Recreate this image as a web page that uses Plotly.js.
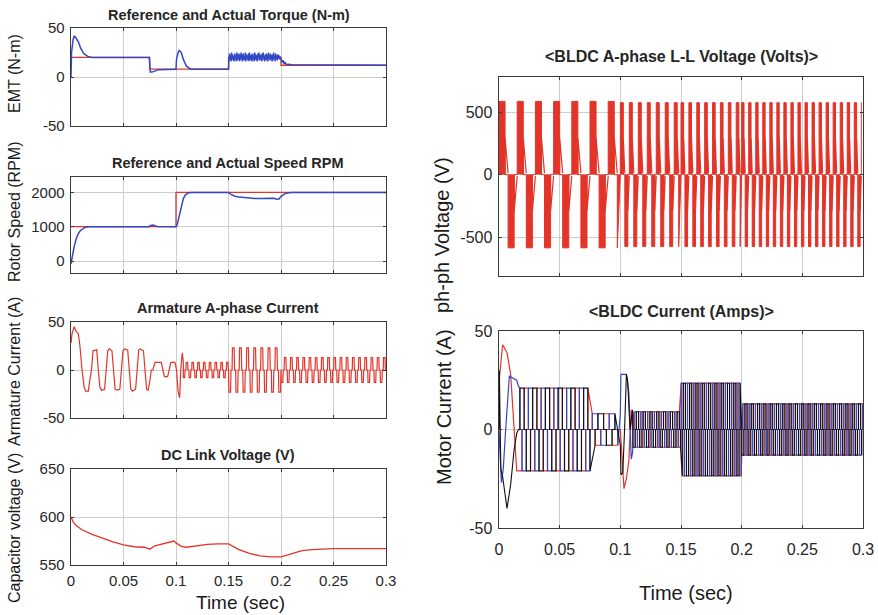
<!DOCTYPE html>
<html><head><meta charset="utf-8">
<script src="https://cdn.plot.ly/plotly-3.0.1.min.js"></script>
<style>html,body{margin:0;padding:0;background:#fff}#chart{width:878px;height:615px}</style>
</head><body><div id="chart"></div>
<script>
// ================= DATA =================
// tick labels
const timeTicks = [0, 0.05, 0.1, 0.15, 0.2, 0.25, 0.3];
const timeTickText = ['0', '0.05', '0.1', '0.15', '0.2', '0.25', '0.3'];
const torqueTicks = [-50, 0, 50], torqueTickText = ['-50', '0', '50'];
const speedTicks = [0, 1000, 2000], speedTickText = ['0', '1000', '2000'];
const armTicks = [-50, 0, 50], armTickText = ['-50', '0', '50'];
const dcTicks = [550, 600, 650], dcTickText = ['550', '600', '650'];
const voltTicks = [-500, 0, 500], voltTickText = ['-500', '0', '500'];
const curTicks = [-50, 0, 50], curTickText = ['-50', '0', '50'];

// Torque (N-m)
const torqueRefT = [0, 0.075, 0.075, 0.15, 0.15, 0.2, 0.2, 0.3];
const torqueRefV = [20, 20, 8, 8, 20, 20, 12, 12];
const torqueActT = [0, 0.0005, 0.002, 0.003, 0.0045, 0.007, 0.009, 0.012, 0.016, 0.02, 0.0745, 0.0755, 0.077, 0.08, 0.083, 0.1, 0.1005, 0.102, 0.103, 0.105, 0.107, 0.11, 0.114, 0.15, 0.1505];
const torqueActV = [0, 25, 38, 42, 40, 36, 30, 24, 21, 20, 20, 5, 5, 6, 7.5, 8, 18, 25, 27, 25, 18, 11, 8, 8, 20];
const torqueRippleStart = 0.151, torqueRippleEnd = 0.1995;
const torqueRippleV = [24, 17, 22, 16, 25, 18, 23, 17, 21, 16, 24, 19, 22, 16, 25, 17, 23, 18, 24, 16, 22, 19, 25, 17, 23, 16, 24, 18, 21, 17, 25, 16, 23, 19, 22, 17, 24, 16, 25, 18, 22, 17, 23, 16, 24, 19, 21, 16, 25, 18, 23, 17, 22, 16, 24, 19, 25, 17, 23, 18, 22, 16, 24, 17, 25, 19, 21, 16, 23, 18, 24, 17, 22, 16, 25, 19, 23, 17, 24, 18, 22, 16, 23, 17, 25, 19, 21, 16, 24, 18, 22, 17, 23, 19, 22, 18, 21, 19];
const torqueTailT = [0.2, 0.201, 0.202, 0.203, 0.204, 0.205, 0.207, 0.21, 0.3];
const torqueTailV = [19, 15, 17, 13.5, 15, 12.5, 13, 12.5, 12];

// Speed (RPM)
const speedRefT = [0, 0.1, 0.1, 0.3];
const speedRefV = [1000, 1000, 2000, 2000];
const speedActT = [0, 0.001, 0.003, 0.005, 0.007, 0.009, 0.011, 0.013, 0.016, 0.074, 0.076, 0.078, 0.08, 0.082, 0.1, 0.101, 0.103, 0.105, 0.107, 0.109, 0.112, 0.115, 0.15, 0.152, 0.156, 0.16, 0.165, 0.17, 0.175, 0.18, 0.185, 0.19, 0.193, 0.196, 0.198, 0.2, 0.203, 0.206, 0.21, 0.3];
const speedActV = [-80, 100, 420, 650, 800, 890, 940, 975, 1000, 1000, 1040, 1050, 1030, 1005, 1000, 1050, 1300, 1600, 1820, 1930, 1990, 2000, 2000, 1950, 1890, 1870, 1850, 1830, 1825, 1820, 1830, 1840, 1830, 1800, 1810, 1880, 1950, 1985, 2000, 2000];

// Armature A-phase current (A): start-up transient vertices, then steady sections
const armTransT = [0, 0.001, 0.003, 0.005, 0.007, 0.0085, 0.0105, 0.0125, 0.014, 0.0165, 0.018, 0.0195, 0.021, 0.0245, 0.026, 0.0275, 0.029, 0.032, 0.0335, 0.035, 0.0365, 0.039, 0.0405, 0.042, 0.0435, 0.0465, 0.048, 0.0495, 0.051, 0.054, 0.0555, 0.057, 0.0585, 0.0615, 0.063, 0.0645, 0.066, 0.069, 0.0705, 0.072, 0.0735, 0.075, 0.0765, 0.078, 0.08, 0.086, 0.0875, 0.089, 0.092, 0.0935, 0.095, 0.099, 0.1005, 0.102, 0.1035, 0.1045, 0.106, 0.107];
const armTransV = [28, 38, 45, 40, 38, 25, 0, -18, -22, -22, -10, 0, 20, 21, 0, -18, -21, -20, 0, 20, 22, 20, 0, -20, -21, -20, 0, 20, 22, 21, 0, -20, -22, -20, 0, 21, 22, 20, 0, -20, -21, -12, 0, 0, 8, 8, 0, -7, -7, 0, 8, 8, 0, -22, -29, 0, 18, 8];
const armSegStart = [0.107, 0.15, 0.2];
const armSegEnd = [0.15, 0.2, 0.3];
const armSegPeriod = [0.0055, 0.0068, 0.0059];
const armSegAmp = [8, 23, 13];
const armSegPhase = [0.55, 0.5, 0.5];

// DC link voltage (V)
const dcT = [0, 0.002, 0.005, 0.01, 0.02, 0.03, 0.04, 0.05, 0.06, 0.07, 0.075, 0.08, 0.09, 0.098, 0.1, 0.105, 0.11, 0.12, 0.13, 0.14, 0.15, 0.16, 0.17, 0.18, 0.19, 0.2, 0.21, 0.22, 0.23, 0.25, 0.3];
const dcV = [600, 595, 591, 587, 582, 578, 574, 571, 569, 568.5, 566.5, 570, 573, 575, 573, 569.5, 568.5, 570, 571.5, 572, 572, 566, 562, 559.5, 558.5, 558.5, 562, 565, 566, 567, 567];

// BLDC A-phase L-L voltage (V): sections [start, end, period, amplitude]
const voltSegStart = [0, 0.1, 0.15, 0.2];
const voltSegEnd = [0.1, 0.15, 0.2, 0.3];
const voltSegPeriod = [0.015, 0.0074, 0.0065, 0.0058];
const voltSegAmp = [585, 575, 575, 575];
const voltFloatLevel = 0.5; // level where the floating-phase slope starts

// BLDC phase currents (A): transients + sections
const curRedT = [0, 0.0003, 0.003, 0.0066, 0.0096, 0.0125, 0.0146, 0.016];
const curRedV = [0, 26, 43, 39, 28, 0, -21, -21];
const curBlueT = [0, 0.0003, 0.002, 0.0035, 0.0055, 0.0085, 0.0146, 0.016];
const curBlueV = [0, -5, -27, -20, 0, 27, 25, 22];
const curBlackT = [0, 0.0003, 0.0015, 0.003, 0.0066, 0.0096, 0.0125, 0.0146, 0.016];
const curBlackV = [0, 30, -20, -24, -40, -28, -10, -2, 0];
const cur2RedT = [0.1, 0.1005, 0.103, 0.105, 0.107, 0.109, 0.11];
const cur2RedV = [0, -5, -30, -25, -16, 10, 0];
const cur2BlueT = [0.1, 0.1005, 0.105, 0.107, 0.109, 0.11];
const cur2BlueV = [8, 28, 28, 19, -15, -12];
const cur2BlackT = [0.1, 0.1005, 0.102, 0.1035, 0.105, 0.106, 0.108, 0.11];
const cur2BlackV = [-8, -23, -22, 0, 28, 25, 0, 10];
const curSegStart = [0.016, 0.075, 0.11, 0.15, 0.2];
const curSegEnd = [0.075, 0.1, 0.15, 0.2, 0.3];
const curSegPeriod = [0.0105, 0.014, 0.0056, 0.0052, 0.0052];
const curSegAmp = [21, 8, 9, 23.5, 13];
const curSegPhase = [0.55, 0.2, 0.1, 0.3, 0.15];

// ================= helpers =================
// one period shape (fractions of the period) used to expand the sections
const SIX_F = [0, 0, 1/3, 1/3, 1/2, 1/2, 5/6, 5/6];
const SIX_L = [0, 1, 1, 0, 0, -1, -1, 0];
const TRAP_F = [0, 0.05, 0.29, 0.35, 0.5, 0.55, 0.79, 0.85];
const TRAP_L = [0, 1, 1, 0, 0, -1, -1, 0];

function expand(t0, t1, T, A, p0, F, L, xs, ys) {
  const f0 = ((p0 % 1) + 1) % 1;
  for (let n = 0; ; n++) {
    for (let k = 0; k < F.length; k++) {
      const te = t0 + (n + F[k] - f0) * T;
      if (te < t0) continue;
      if (te > t1) { return; }
      xs.push(te); ys.push(L[k] === null ? null : A * L[k]);
    }
  }
}
function sections(starts, ends, periods, amps, phases, offset, F, L) {
  const xs = [], ys = [];
  for (let i = 0; i < starts.length; i++) {
    expand(starts[i], ends[i], periods[i], amps[i], (phases ? phases[i] : 0) + offset, F, L, xs, ys);
  }
  return {x: xs, y: ys};
}

// ================= build traces =================
const RED = '#e3342a', BLUE = '#3348c4', BLACK = '#111111';
const traces = [];

// torque
const tqX = torqueActT.slice(), tqY = torqueActV.slice();
const rippleStep = (torqueRippleEnd - torqueRippleStart) / (torqueRippleV.length - 1);
torqueRippleV.forEach((v, i) => { tqX.push(torqueRippleStart + i * rippleStep); tqY.push(v); });
torqueTailT.forEach((t, i) => { tqX.push(t); tqY.push(torqueTailV[i]); });
traces.push({x: torqueRefT, y: torqueRefV, xaxis: 'x', yaxis: 'y', mode: 'lines', line: {color: RED, width: 1.3}});
traces.push({x: tqX, y: tqY, xaxis: 'x', yaxis: 'y', mode: 'lines', line: {color: BLUE, width: 1.5, simplify: false}});

// speed
traces.push({x: speedRefT, y: speedRefV, xaxis: 'x2', yaxis: 'y2', mode: 'lines', line: {color: RED, width: 1.3}});
traces.push({x: speedActT, y: speedActV, xaxis: 'x2', yaxis: 'y2', mode: 'lines', line: {color: BLUE, width: 1.5}});

// armature current
const armS = sections(armSegStart, armSegEnd, armSegPeriod, armSegAmp, armSegPhase, 0, TRAP_F, TRAP_L);
traces.push({x: armTransT.concat(armS.x), y: armTransV.concat(armS.y), xaxis: 'x3', yaxis: 'y3', mode: 'lines', line: {color: RED, width: 1.2, simplify: false}});

// dc link
traces.push({x: dcT, y: dcV, xaxis: 'x4', yaxis: 'y4', mode: 'lines', line: {color: RED, width: 1.3}});

// L-L voltage: conduction blocks (filled) + floating slopes
const vb = sections(voltSegStart, voltSegEnd, voltSegPeriod, voltSegAmp, null, 0, SIX_F, SIX_L);
traces.push({x: vb.x, y: vb.y, xaxis: 'x5', yaxis: 'y5', mode: 'lines', fill: 'tozeroy', fillcolor: RED, line: {color: RED, width: 1, simplify: false}});
const SLOPE_F = [1/3, 1/3, 1/2, 1/2, 5/6, 5/6, 1, 1];
const SLOPE_L = [0, voltFloatLevel, 0.02, null, 0, -voltFloatLevel, -0.02, null];
const vs = sections(voltSegStart, voltSegEnd, voltSegPeriod, voltSegAmp, null, 0, SLOPE_F, SLOPE_L);
traces.push({x: vs.x, y: vs.y, xaxis: 'x5', yaxis: 'y5', mode: 'lines', connectgaps: false, line: {color: RED, width: 1.2, simplify: false}});

// phase currents
const phaseOff = [0, -1/3, -2/3];
const cr = sections(curSegStart, curSegEnd, curSegPeriod, curSegAmp, curSegPhase, phaseOff[0], SIX_F, SIX_L);
const cb = sections(curSegStart, curSegEnd, curSegPeriod, curSegAmp, curSegPhase, phaseOff[1], SIX_F, SIX_L);
const ck = sections(curSegStart, curSegEnd, curSegPeriod, curSegAmp, curSegPhase, phaseOff[2], SIX_F, SIX_L);
function merge(tA, vA, tB, vB, s) { // transient pieces inserted in time order
  const x = [], y = [];
  const all = tA.map((t, i) => [t, vA[i]]).concat(tB.map((t, i) => [t, vB[i]]));
  const secs = s.x.map((t, i) => [t, s.y[i]]);
  const combined = all.concat(secs).map((p, i) => [p[0], p[1], i]);
  combined.sort((a, b) => a[0] - b[0] || a[2] - b[2]);
  combined.forEach(p => { x.push(p[0]); y.push(p[1]); });
  return {x, y};
}
const curRed = merge(curRedT, curRedV, cur2RedT, cur2RedV, cr);
const curBlue = merge(curBlueT, curBlueV, cur2BlueT, cur2BlueV, cb);
const curBlack = merge(curBlackT, curBlackV, cur2BlackT, cur2BlackV, ck);
traces.push({x: curRed.x, y: curRed.y, xaxis: 'x6', yaxis: 'y6', mode: 'lines', line: {color: RED, width: 1.2, simplify: false}});
traces.push({x: curBlue.x, y: curBlue.y, xaxis: 'x6', yaxis: 'y6', mode: 'lines', line: {color: BLUE, width: 1.2, simplify: false}});
traces.push({x: curBlack.x, y: curBlack.y, xaxis: 'x6', yaxis: 'y6', mode: 'lines', line: {color: BLACK, width: 1.1, simplify: false}});

// ================= layout =================
const W = 878, H = 615;
const FONT = 'Liberation Sans, Arial, Helvetica, sans-serif';
const GRID = '#cdcdcd';
function px(x) { return x / W; }
function py(y) { return 1 - y / H; }
function xax(d, anchor, labels, size, standoff) {
  return {domain: d, anchor: anchor, range: [0, 0.3], tickvals: timeTicks, ticktext: timeTickText,
    showticklabels: labels, tickfont: {family: FONT, size: size, color: '#262626'}, ticklabelstandoff: standoff,
    showgrid: true, gridcolor: GRID, gridwidth: 1, zeroline: false, showline: true, mirror: 'ticks',
    linecolor: '#3a3a3a', linewidth: 1.4, ticks: 'inside', ticklen: 3, tickcolor: '#3a3a3a', fixedrange: true};
}
function yax(d, anchor, range, vals, text, size) {
  return {domain: d, anchor: anchor, range: range, tickvals: vals, ticktext: text,
    tickfont: {family: FONT, size: size, color: '#262626'}, ticklabelstandoff: 2,
    showgrid: true, gridcolor: GRID, gridwidth: 1, zeroline: false, showline: true, mirror: 'ticks',
    linecolor: '#3a3a3a', linewidth: 1.4, ticks: 'inside', ticklen: 3, tickcolor: '#3a3a3a', fixedrange: true};
}
const LX = [px(71), px(386)], RX = [px(499), px(863)];
const layout = {
  width: W, height: H, margin: {l: 0, r: 0, t: 0, b: 0}, showlegend: false,
  paper_bgcolor: '#fff', plot_bgcolor: '#fff',
  xaxis: xax(LX, 'y', false, 15, 4),
  yaxis: yax([py(126), py(28)], 'x', [-50, 50], torqueTicks, torqueTickText, 15),
  xaxis2: xax(LX, 'y2', false, 15, 4),
  yaxis2: yax([py(273), py(177)], 'x2', [-350, 2450], speedTicks, speedTickText, 15),
  xaxis3: xax(LX, 'y3', false, 15, 4),
  yaxis3: yax([py(418), py(322)], 'x3', [-50, 50], armTicks, armTickText, 15),
  xaxis4: xax(LX, 'y4', true, 15, 2),
  yaxis4: yax([py(565), py(469)], 'x4', [550, 650], dcTicks, dcTickText, 15),
  xaxis5: xax(RX, 'y5', false, 16, 4),
  yaxis5: yax([py(276), py(77)], 'x5', [-810, 780], voltTicks, voltTickText, 16),
  xaxis6: xax(RX, 'y6', true, 16, 6),
  yaxis6: yax([py(528), py(331)], 'x6', [-50, 50], curTicks, curTickText, 16),
  annotations: []
};
function ann(text, x, y, size, bold, angle) {
  layout.annotations.push({text: bold ? '<b>' + text + '</b>' : text, xref: 'paper', yref: 'paper',
    x: px(x), y: py(y), xanchor: 'center', yanchor: 'middle', showarrow: false, textangle: angle || 0,
    font: {family: FONT, size: size, color: bold ? '#262626' : '#1a1a1a'}});
}
ann('Reference and Actual Torque (N-m)', 229, 15, 14.5, true);
ann('Reference and Actual Speed RPM', 228, 163, 14.5, true);
ann('Armature A-phase Current', 228, 308, 14.5, true);
ann('DC Link Voltage (V)', 228, 455, 14.5, true);
ann('&lt;BLDC A-phase L-L Voltage (Volts)&gt;', 681, 57, 16, true);
ann('&lt;BLDC Current (Amps)&gt;', 681, 311, 16, true);
ann('EMT (N-m)', 14, 74, 16, false, -90);
ann('Rotor Speed (RPM)', 14, 212, 16, false, -90);
ann('Armature Current (A)', 14, 372, 16, false, -90);
ann('Capacitor voltage (V)', 14, 528, 16, false, -90);
ann('ph-ph Voltage (V)', 442, 235, 20, false, -90);
ann('Motor Current (A)', 444, 407, 20, false, -90);
ann('Time (sec)', 240, 602, 19, false);
ann('Time (sec)', 686, 593, 20, false);

Plotly.newPlot('chart', traces, layout, {staticPlot: true, displayModeBar: false});
</script></body></html>
